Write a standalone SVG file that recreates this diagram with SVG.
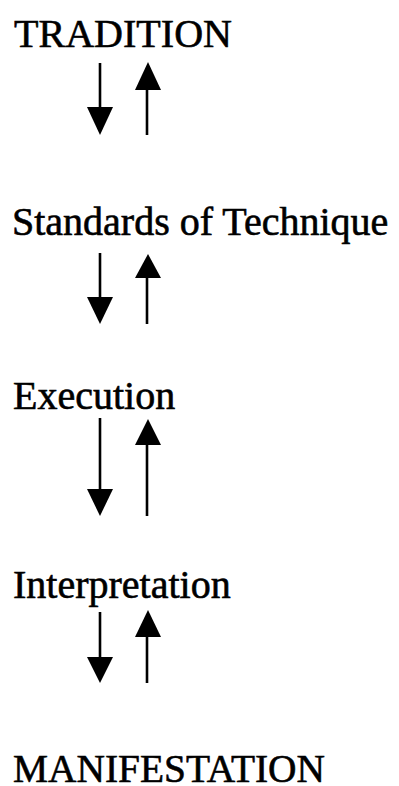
<svg xmlns="http://www.w3.org/2000/svg" width="399" height="786" viewBox="0 0 399 786">
<style>
text{font-family:"Liberation Serif","Times New Roman",serif;font-size:40px;fill:#000;stroke:#000;stroke-width:0.6}
.ln{stroke:#000;stroke-width:2.6;fill:none}
.hd{fill:#000}
</style>
<rect width="399" height="786" fill="#fff"/>
<g id="tradition"><text x="14" y="47" textLength="218" lengthAdjust="spacingAndGlyphs">TRADITION</text></g>
<g id="standards"><text x="12" y="235">Standards of Technique</text></g>
<g id="execution"><text x="13" y="409">Execution</text></g>
<g id="interpretation"><text x="13" y="598">Interpretation</text></g>
<g id="manifestation"><text x="13" y="782" textLength="312" lengthAdjust="spacingAndGlyphs">MANIFESTATION</text></g>
<g id="connectors">
  <line class="ln" x1="100" y1="63" x2="100" y2="110"/>
  <polygon class="hd" points="87,107 113,107 100,135"/>
  <line class="ln" x1="147" y1="87" x2="147" y2="135"/>
  <polygon class="hd" points="135,90 161,90 148,62"/>

  <line class="ln" x1="100" y1="253" x2="100" y2="300"/>
  <polygon class="hd" points="87,297 113,297 100,324"/>
  <line class="ln" x1="147" y1="275" x2="147" y2="324"/>
  <polygon class="hd" points="135,278 161,278 148,254"/>

  <line class="ln" x1="100" y1="418" x2="100" y2="492"/>
  <polygon class="hd" points="87,489 113,489 100,516"/>
  <line class="ln" x1="147" y1="442" x2="147" y2="516"/>
  <polygon class="hd" points="135,445 161,445 148,419"/>

  <line class="ln" x1="100" y1="612" x2="100" y2="660"/>
  <polygon class="hd" points="87,657 113,657 100,683"/>
  <line class="ln" x1="147" y1="634" x2="147" y2="683"/>
  <polygon class="hd" points="135,637 161,637 148,610"/>
</g>
</svg>
